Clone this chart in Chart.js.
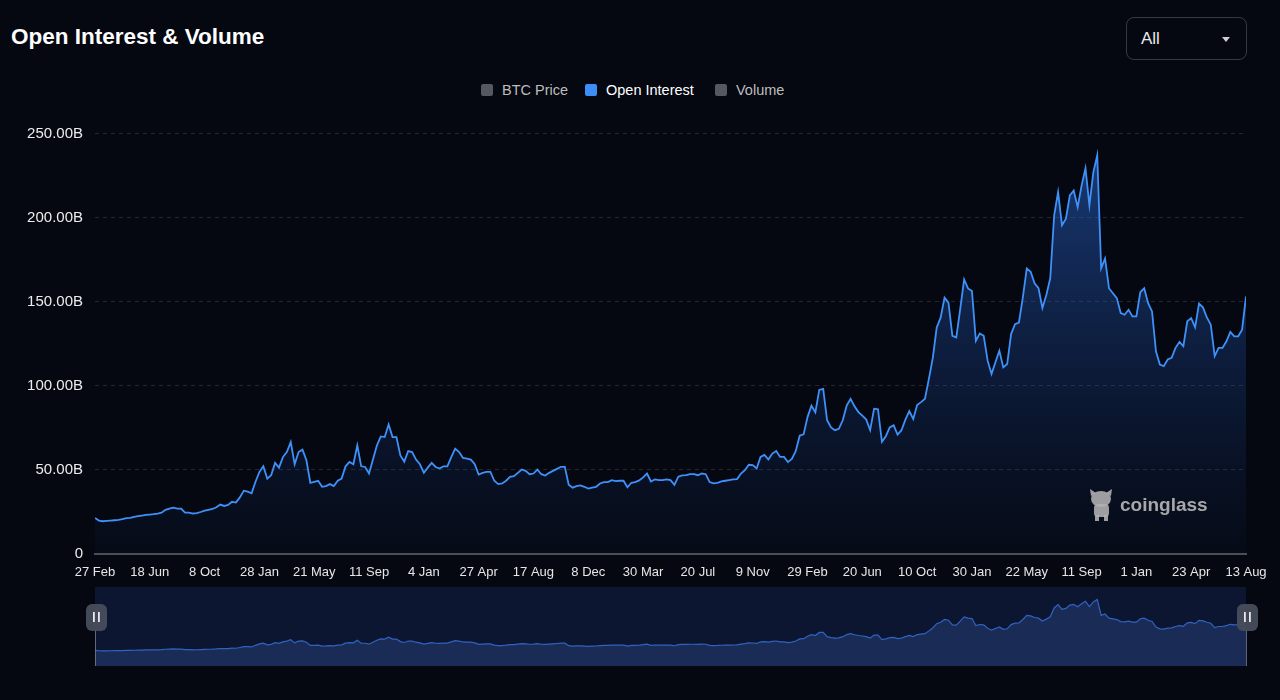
<!DOCTYPE html>
<html>
<head>
<meta charset="utf-8">
<title>Open Interest & Volume</title>
<script src="https://cdn.jsdelivr.net/npm/chart.js@4.4.1/dist/chart.umd.min.js"></script>
<style>
  html, body { margin: 0; padding: 0; width: 1280px; height: 700px; overflow: hidden; background: #050811; font-family: "Liberation Sans", Arial, sans-serif; }
  #title { position: absolute; left: 11px; top: 23px; font-size: 22.5px; font-weight: bold; color: #fff; line-height: 28px; }
  #range { position: absolute; left: 1126px; top: 17px; width: 119px; height: 41px; border: 1px solid rgba(255,255,255,0.2); border-radius: 8px; }
  #range span { position: absolute; left: 14px; top: 11px; font-size: 17px; color: #e8e8e8; }
  #range i { position: absolute; left: 95px; top: 19px; border-left: 4.5px solid transparent; border-right: 4.5px solid transparent; border-top: 5px solid #d0d0d0; }
  .leg { position: absolute; top: 82px; height: 17px; font-size: 14.5px; line-height: 17px; white-space: nowrap; }
  .leg b { position: absolute; left: 0; top: 2px; width: 12px; height: 12px; border-radius: 2px; }
  .leg span { position: absolute; left: 21px; top: 0; }
  #main { position: absolute; left: 0; top: 0; }
  #nav { position: absolute; left: 0; top: 587px; }
</style>
</head>
<body>
<div id="title">Open Interest &amp; Volume</div>
<div id="range"><span>All</span><i></i></div>
<div id="legend"></div>
<canvas id="main" width="1280" height="582"></canvas>
<canvas id="nav" width="1280" height="79"></canvas>
<script>
// x axis ticks (one every 14 points)
const tickLabels = ['27 Feb', '18 Jun', '8 Oct', '28 Jan', '21 May', '11 Sep', '4 Jan', '27 Apr', '17 Aug', '8 Dec', '30 Mar',
  '20 Jul', '9 Nov', '29 Feb', '20 Jun', '10 Oct', '30 Jan', '22 May', '11 Sep', '1 Jan', '23 Apr', '13 Aug'];

// legend entries
const seriesNames = ['BTC Price', 'Open Interest', 'Volume'];
const seriesColors = ['#55585f', '#3c8df5', '#55585f'];
const seriesTextColors = ['#bdbdbd', '#ffffff', '#bdbdbd'];
const legendLeft = [481, 585, 715];

// open interest, billions USD
const openInterest = [
  21.2, 19.6, 19.2, 19.4, 19.6, 19.8, 20.0, 20.4, 21.0, 21.2,
  21.8, 22.2, 22.6, 23.0, 23.2, 23.4, 23.8, 24.3, 26.0, 26.7,
  27.3, 26.7, 26.7, 24.3, 24.3, 23.8, 24.0, 24.7, 25.5, 26.0,
  26.5, 27.5, 29.1, 28.3, 28.9, 30.8, 30.3, 33.4, 37.4, 36.8,
  35.8, 42.7, 48.6, 51.9, 44.6, 46.6, 53.9, 51.1, 57.4, 60.4,
  66.3, 53.1, 60.4, 61.8, 55.5, 42.1, 42.7, 43.3, 39.7, 40.1,
  41.3,
  40.1, 43.3, 44.6, 51.9, 54.5, 53.1, 64.3, 51.9, 51.5, 47.6,
  55.9, 64.3, 69.7, 69.3, 76.8, 69.3, 69.3, 58.4, 54.7, 61.0,
  60.4, 55.9, 53.1, 48.0, 51.1, 53.9, 51.5, 50.6, 51.9, 51.9,
  57.4, 62.4, 60.4, 56.9, 56.5, 55.9, 53.1, 47.0, 48.0, 48.6,
  48.6, 43.3, 41.3, 41.7, 43.3, 45.6, 46.0, 48.0, 50.0, 49.2,
  47.2, 47.6, 50.0, 47.2, 46.4, 48.0, 49.2, 50.4,
  51.6, 51.6, 41.0, 39.2, 40.1, 40.5, 39.7, 38.6, 39.2, 39.7,
  41.7, 42.5, 42.5, 43.7, 43.1, 43.3, 43.3, 39.4, 42.1, 42.5,
  43.5, 45.3, 47.6, 42.9, 44.1, 43.7, 43.7, 44.1, 43.7, 40.9,
  45.7, 46.5, 46.6, 47.2, 47.2, 46.6, 47.6, 47.2, 42.5, 41.7,
  42.1, 42.9, 43.3, 43.7, 44.1, 44.3, 47.6, 49.6, 52.8, 52.6,
  50.6, 57.5, 58.7, 55.9, 59.5, 61.0, 57.5, 57.5, 54.5, 56.3,
  61.0, 70.1, 70.9, 81.2, 88.0,
  84.0, 97.4, 98.0, 79.3, 75.0, 73.4, 74.2, 79.3, 88.0, 92.1,
  87.6, 84.2, 82.1, 79.7, 73.4, 86.2, 85.8, 66.5, 69.8, 75.0,
  76.3, 70.8, 73.4, 79.7, 84.8, 80.1, 88.4, 90.1, 92.1, 103.9,
  116.4, 134.5, 140.4, 152.3, 149.3, 129.6, 128.6, 145.4, 163.1, 157.8,
  156.2, 126.6, 131.0, 129.6, 114.8, 106.9, 113.8, 120.7, 110.8, 112.8,
  130.6, 136.5, 137.5,
  152.4, 169.7, 167.7, 160.8, 157.9, 146.1, 153.9, 163.8, 201.3, 215.1,
  195.4, 199.3, 213.1, 216.1, 206.2, 219.0, 229.3, 207.2, 226.9, 237.0,
  169.7, 175.6, 157.9, 154.9, 152.0, 143.1, 142.1, 145.1, 141.1, 141.1,
  155.5, 157.9, 149.0, 144.1, 120.4, 112.5, 111.5, 115.5, 116.5, 122.4,
  125.9, 123.4, 138.2, 140.1, 134.6, 148.8, 146.5, 140.5, 136.2, 117.5,
  122.4, 122.4, 126.3, 131.9, 129.3, 129.3, 133.2, 153.0
];

const FONT = '"Liberation Sans", Arial, sans-serif';
const points = openInterest.map((v, i) => ({ x: i, y: v }));

// legend (html)
const legendEl = document.getElementById('legend');
seriesNames.forEach((name, i) => {
  const item = document.createElement('div');
  item.className = 'leg';
  item.style.left = legendLeft[i] + 'px';
  item.innerHTML = `<b style="background:${seriesColors[i]}"></b><span style="color:${seriesTextColors[i]}">${name}</span>`;
  legendEl.appendChild(item);
});

// coinglass watermark
const watermark = {
  id: 'watermark',
  afterDatasetsDraw(chart) {
    const c = chart.ctx;
    c.save();
    c.fillStyle = 'rgba(175,175,175,0.9)';
    // little mascot
    c.beginPath();
    c.ellipse(1101, 499, 10, 8, 0, 0, Math.PI * 2);
    c.fill();
    c.beginPath();
    c.moveTo(1091, 496); c.lineTo(1090, 489); c.lineTo(1096, 493); c.closePath();
    c.moveTo(1111, 496); c.lineTo(1112, 489); c.lineTo(1106, 493); c.closePath();
    c.fill();
    c.beginPath();
    c.roundRect(1094, 504, 15, 13, 4);
    c.fill();
    c.fillRect(1095, 515, 4, 6);
    c.fillRect(1104, 515, 4, 6);
    c.font = 'bold 19px ' + FONT;
    c.textBaseline = 'middle';
    c.fillStyle = 'rgba(185,185,185,0.9)';
    c.fillText('coinglass', 1120, 506);
    c.restore();
  }
};

new Chart(document.getElementById('main'), {
  type: 'line',
  data: {
    datasets: [{
      label: 'Open Interest',
      data: points,
      borderColor: '#3f91fa',
      borderWidth: 1.8,
      pointRadius: 0,
      tension: 0,
      fill: 'origin',
      backgroundColor: (ctx) => {
        const a = ctx.chart.chartArea;
        if (!a) return 'rgba(30,80,170,0.3)';
        const g = ctx.chart.ctx.createLinearGradient(0, a.top, 0, a.bottom);
        g.addColorStop(0, 'rgba(45,105,210,0.55)');
        g.addColorStop(1, 'rgba(25,60,130,0.06)');
        return g;
      }
    }]
  },
  options: {
    responsive: false,
    animation: false,
    layout: { padding: { top: 133.5, right: 34, bottom: 0, left: 0 } },
    plugins: { legend: { display: false }, tooltip: { enabled: false } },
    scales: {
      x: {
        type: 'linear',
        min: 0,
        max: openInterest.length - 1,
        afterFit: (s) => { s.height = 28.5; },
        grid: { display: false, drawTicks: false },
        border: { display: true, color: '#4a4e58', width: 2 },
        ticks: {
          stepSize: 14,
          autoSkip: false,
          maxRotation: 0,
          padding: 11,
          color: '#e6e6e6',
          font: { size: 13, family: FONT },
          callback: (v) => tickLabels[Math.round(v / 14)]
        }
      },
      y: {
        min: 0,
        max: 250,
        afterFit: (s) => { s.width = 95; },
        grid: {
          drawTicks: false,
          color: (c) => c.tick && c.tick.value === 0 ? 'rgba(0,0,0,0)' : 'rgba(255,255,255,0.13)'
        },
        border: { display: false, dash: [4, 4] },
        ticks: {
          stepSize: 50,
          padding: 12,
          color: '#ececec',
          font: { size: 15, family: FONT },
          callback: (v) => v === 0 ? '0' : v.toFixed(2) + 'B'
        }
      }
    }
  },
  plugins: [watermark]
});

// navigator strip under the chart
const navDecor = {
  id: 'navDecor',
  beforeDatasetsDraw(chart) {
    const a = chart.chartArea;
    chart.ctx.save();
    chart.ctx.fillStyle = '#0d1631';
    chart.ctx.fillRect(a.left, a.top, a.right - a.left, a.bottom - a.top);
    chart.ctx.restore();
  },
  afterDraw(chart) {
    const c = chart.ctx;
    const a = chart.chartArea;
    c.save();
    [a.left, a.right].forEach((x) => {
      c.strokeStyle = 'rgba(120,125,140,0.8)';
      c.lineWidth = 1;
      c.beginPath();
      c.moveTo(x + 0.5, 43);
      c.lineTo(x + 0.5, a.bottom);
      c.stroke();
      c.fillStyle = 'rgba(72,77,92,0.95)';
      c.beginPath();
      c.roundRect(x - 9, 17, 21, 27, 6);
      c.fill();
      c.fillStyle = '#e8e8e8';
      c.fillRect(x - 2, 25, 1.8, 10);
      c.fillRect(x + 3, 25, 1.8, 10);
    });
    c.restore();
  }
};

new Chart(document.getElementById('nav'), {
  type: 'line',
  data: {
    datasets: [{
      data: points,
      borderColor: '#2f63c2',
      borderWidth: 1.2,
      pointRadius: 0,
      tension: 0,
      fill: 'start',
      backgroundColor: '#1a2b55'
    }]
  },
  options: {
    responsive: false,
    animation: false,
    layout: { padding: { top: 0, right: 34, bottom: 0, left: 95 } },
    plugins: { legend: { display: false }, tooltip: { enabled: false } },
    scales: {
      x: { type: 'linear', min: 0, max: openInterest.length - 1, display: false },
      y: { min: -45, max: 290, display: false }
    }
  },
  plugins: [navDecor]
});
</script>
</body>
</html>
